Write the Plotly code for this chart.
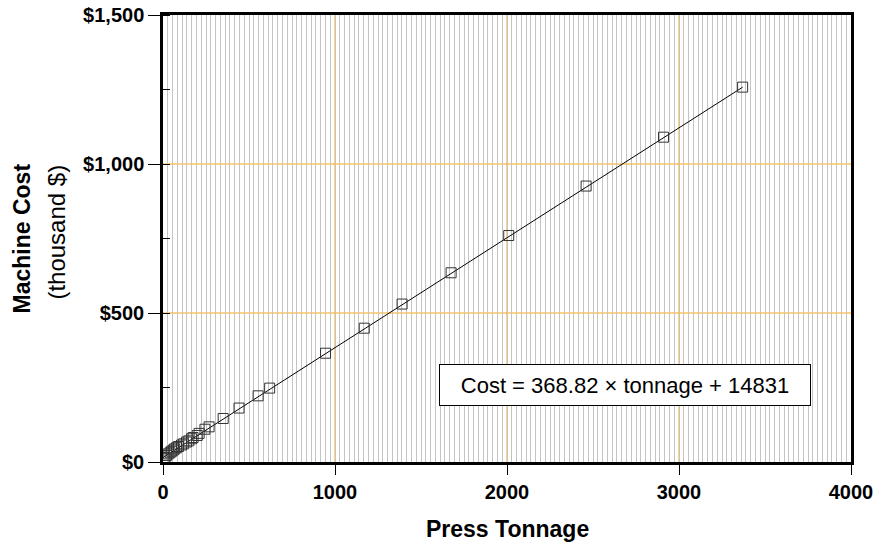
import plotly.graph_objects as go

# Data (tonnage, cost in thousand $)
tonnage = [3370, 2910, 2460, 2010, 1675, 1390, 1170, 945, 620, 553, 442, 350,
           268, 244, 210, 199, 175, 166, 150, 137, 120, 108, 90, 79, 68, 60, 50, 41, 30, 21, 12, 6]
cost = [1258, 1090, 926, 760, 635, 530, 449, 365, 248, 222, 181, 146,
        118, 110, 96, 89, 82, 78, 71, 67, 61, 57, 52, 48, 44, 40, 36, 31, 27, 22, 15, 13]

# Regression shown in the chart: Cost($) = 368.82 x tonnage + 14831
slope = 368.82
intercept = 14831

x_ticks = [0, 1000, 2000, 3000, 4000]
x_tick_labels = ["0", "1000", "2000", "3000", "4000"]
y_ticks = [0, 500, 1000, 1500]
y_tick_labels = ["$0", "$500", "$1,000", "$1,500"]
x_major_grid = [1000, 2000, 3000]
y_major_grid = [500, 1000]

fit_x = [0, max(tonnage)]
fit_y = [(slope * t + intercept) / 1000 for t in fit_x]

FONT = "Liberation Sans, Arial, Helvetica, sans-serif"
ORANGE = "#ffa500"

fig = go.Figure()
fig.add_trace(go.Scatter(x=fit_x, y=fit_y, mode="lines",
                         line=dict(color="black", width=1), hoverinfo="skip"))
fig.add_trace(go.Scatter(x=tonnage, y=cost, mode="markers",
                         marker=dict(symbol="square-open", size=10, color="#333333",
                                     line=dict(width=1))))

fig.update_layout(
    width=876, height=546,
    margin=dict(l=163, r=25, t=15, b=84),
    paper_bgcolor="white", plot_bgcolor="white",
    showlegend=False,
    font=dict(family=FONT, color="black"),
)

fig.update_xaxes(
    range=[0, 4000], tickvals=x_ticks, ticktext=x_tick_labels,
    tickfont=dict(family=FONT, size=20, weight="bold"),
    ticks="outside", ticklen=10, tickwidth=1, tickcolor="black",
    showline=True, linecolor="black", linewidth=2.5, mirror=True,
    showgrid=False,
    zeroline=False, automargin=False, ticklabeloverflow="allow",
    minor=dict(dtick=1000 / 36, tick0=0, showgrid=True, gridcolor="#c4c4c4",
               gridwidth=1, ticks=""),
)
fig.update_yaxes(
    range=[0, 1500], tickvals=y_ticks, ticktext=y_tick_labels,
    tickfont=dict(family=FONT, size=20, weight="bold"),
    ticks="outside", ticklen=12, tickwidth=1, tickcolor="black",
    showline=True, linecolor="black", linewidth=2.5, mirror=True,
    showgrid=False,
    zeroline=False, automargin=False, ticklabeloverflow="allow",
    minor=dict(dtick=250, tick0=0, showgrid=False, ticks="inside", ticklen=7,
               tickcolor="black", tickwidth=1),
)

# orange major gridlines
for gx in x_major_grid:
    fig.add_shape(type="line", xref="x", yref="paper", x0=gx, x1=gx, y0=0, y1=1,
                  line=dict(color=ORANGE, width=1), layer="below")
for gy in y_major_grid:
    fig.add_shape(type="line", xref="paper", yref="y", x0=0, x1=1, y0=gy, y1=gy,
                  line=dict(color=ORANGE, width=1), layer="below")

fig.add_annotation(text="<b>Press Tonnage</b>", xref="paper", yref="paper",
                   x=0.5, y=-0.1496, xanchor="center", yanchor="middle",
                   showarrow=False, font=dict(family=FONT, size=23, color="black"))
fig.add_annotation(text="<b>Machine Cost</b>", xref="paper", yref="paper",
                   x=-0.205, y=0.5, xanchor="center", yanchor="middle", textangle=-90,
                   showarrow=False, font=dict(family=FONT, size=23, color="black"))
fig.add_annotation(text="(thousand $)", xref="paper", yref="paper",
                   x=-0.155, y=0.514, xanchor="center", yanchor="middle", textangle=-90,
                   showarrow=False, font=dict(family=FONT, size=24, color="black"))
fig.add_annotation(text="Cost = 368.82 \u00d7 tonnage + 14831", xref="paper", yref="paper",
                   x=0.672, y=0.172, xanchor="center", yanchor="middle",
                   showarrow=False, bgcolor="white", bordercolor="black", borderwidth=1,
                   width=370, height=40, borderpad=0,
                   font=dict(family=FONT, size=22, color="black"))

# remove the default page margin so the 876x546 figure fills the window exactly
fig.write_html("out.html", config={"displayModeBar": False},
               post_script="document.body.style.margin='0';")
